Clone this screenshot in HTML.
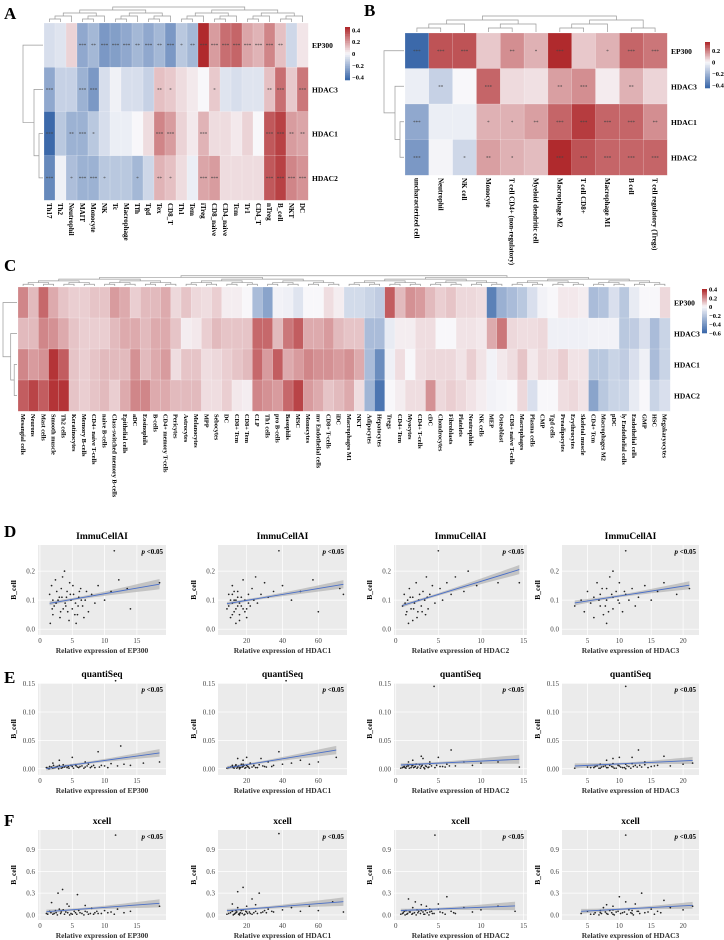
<!DOCTYPE html>
<html><head><meta charset="utf-8">
<style>
html,body{margin:0;padding:0;background:#fff;}
svg{display:block;font-family:"Liberation Serif",serif;}
</style></head>
<body>
<svg id="fig" width="724" height="940" viewBox="0 0 724 940" xmlns="http://www.w3.org/2000/svg">
<text x="4" y="19" font-size="17" font-weight="bold">A</text>
<text x="364" y="16" font-size="17" font-weight="bold">B</text>
<text x="4" y="271" font-size="17" font-weight="bold">C</text>
<text x="4" y="537" font-size="17" font-weight="bold">D</text>
<text x="4" y="683" font-size="17" font-weight="bold">E</text>
<text x="4" y="826" font-size="17" font-weight="bold">F</text>
</svg>
<script>
// ---------- Heatmap data ----------
const rowNames = ["EP300","HDAC3","HDAC1","HDAC2"];
const colsA = ["Th17","Th2","Neutrophil","MAIT","Monocyte","NK","Tc","Macrophage","Tfh","Tgd","Tex","CD8_T","Th1","Tem","iTreg","CD8_naive","CD4_naive","Tcm","Tr1","CD4_T","nTreg","B_cell","NKT","DC"];
const valsA_EP300 = [-0.08,-0.06,0.08,-0.25,-0.2,-0.3,-0.28,-0.25,-0.2,-0.25,-0.2,-0.3,-0.15,-0.2,0.45,0.2,0.3,0.32,0.18,0.15,0.25,0.12,-0.1,0.04];
const valsA_HDAC3 = [-0.25,-0.12,-0.12,-0.22,-0.3,-0.08,-0.02,-0.08,-0.08,-0.12,0.12,0.1,0.06,0.03,0.0,0.1,-0.06,-0.08,-0.06,-0.06,0.12,0.3,0.1,0.28];
const valsA_HDAC1 = [-0.45,-0.15,-0.22,-0.22,-0.15,-0.08,-0.03,-0.03,0.0,0.06,0.25,0.2,0.08,0.03,0.15,0.06,0.06,0.03,0.08,0.0,0.35,0.4,0.2,0.18];
const valsA_HDAC2 = [-0.35,-0.02,-0.18,-0.22,-0.22,-0.15,-0.15,-0.15,-0.2,-0.1,0.15,0.12,0.06,-0.03,0.18,0.2,0.06,0.06,0.06,0.06,0.35,0.4,0.25,0.22];
const starsA_EP300 = ["","","","***","**","***","***","***","**","***","**","***","*","**","***","***","***","***","***","***","***","**","",""];
const starsA_HDAC3 = ["***","","","***","***","","","","","","**","*","","","","*","","","","","**","***","","***"];
const starsA_HDAC1 = ["***","","**","***","*","","","","","","***","***","","","***","","","","","","***","***","**","**"];
const starsA_HDAC2 = ["***","","*","***","***","*","","","*","","**","*","","","***","***","","","","","***","***","***","***"];

const colsB = ["uncharacterized cell","Neutrophil","NK cell","Monocyte","T cell CD4+ (non-regulatory)","Myeloid dendritic cell","Macrophage M2","T cell CD8+","Macrophage M1","B cell","T cell regulatory (Tregs)"];
const valsB_EP300 = [-0.45,0.28,0.28,0.08,0.18,0.12,0.35,0.08,0.12,0.25,0.22];
const valsB_HDAC3 = [-0.03,-0.12,0.0,0.25,0.05,0.04,0.15,0.18,0.02,0.12,0.06];
const valsB_HDAC1 = [-0.25,-0.03,-0.03,0.12,0.12,0.15,0.25,0.32,0.25,0.25,0.18];
const valsB_HDAC2 = [-0.3,-0.01,-0.1,0.15,0.12,0.1,0.35,0.28,0.25,0.25,0.25];
const starsB_EP300 = ["***","***","***","","**","*","***","","*","***","***"];
const starsB_HDAC3 = ["","**","","***","","","**","***","","**",""];
const starsB_HDAC1 = ["***","","","*","*","**","***","***","***","***","**"];
const starsB_HDAC2 = ["***","","*","**","*","","***","***","***","***","***"];

const colsC = ["Mesangial cells","Neurons","Mast cells","Smooth muscle","Th2 cells","Keratinocytes","Memory B-cells","CD4+ naive T-cells","naive B-cells","Class-switched memory B-cells","Epithelial cells","aDC","Eosinophils","B-cells","CD4+ memory T-cells","Pericytes","Astrocytes","Melanocytes","MPP","Sebocytes","DC","CD8+ Tcm","CD8+ Tem","CLP","Th1 cells","pro B-cells","Basophils","MSC","Monocytes","mv Endothelial cells","CD8+ T-cells","iDC","Macrophages M1","NKT","Adipocytes","Hepatocytes","Tregs","CD4+ Tem","Myocytes","CD4+ T-cells","cDC","Chondrocytes","Fibroblasts","Platelets","Neutrophils","NK cells","MEP","Osteoblast","CD8+ naive T-cells","Macrophages","Plasma cells","CMP","Tgd cells","Preadipocytes","Erythrocytes","Skeletal muscle","CD4+ Tcm","Macrophages M2","pDC","ly Endothelial cells","Endothelial cells","GMP","HSC","Megakaryocytes"];
const valsC_EP300 = [.22,.12,.28,.15,.1,.08,.08,.1,.1,.18,.15,.08,.12,.12,.15,.06,.1,.06,.05,.08,.02,.02,0,-.25,-.35,-.02,-.03,-.08,0,0,.05,.02,-.12,-.12,-.15,-.18,.3,.12,.2,.18,.12,.08,.1,.06,.06,.05,-.5,-.3,-.25,-.2,-.1,-.02,0,.03,.03,.02,-.25,-.22,-.1,-.2,-.05,0,0,.06];
const valsC_HDAC3 = [.12,.12,.22,.2,.15,.1,.08,.08,.08,.12,.15,.15,.12,.15,.15,.1,.02,.03,.08,.12,.1,.1,.1,.28,.28,.12,.25,.3,.15,.15,.18,.12,.1,.1,-.25,-.25,-.05,.02,.02,.05,.05,0,0,.04,.04,.03,.15,.25,.06,.05,.05,.06,-.03,-.03,-.03,-.03,-.02,-.02,-.02,-.2,-.18,-.1,-.25,-.15];
const valsC_HDAC1 = [.22,.18,.2,.38,.3,.1,.08,.1,.12,.12,.12,.2,.12,.15,.18,.05,.1,.1,.05,.06,.08,.1,.12,.28,.18,.3,.15,.18,.22,.2,.2,.18,.2,.15,-.25,-.45,-.03,.05,0,.05,.06,.06,.06,.04,.08,.04,-.02,.03,.05,.1,.03,.06,.05,.08,.04,.04,-.2,-.2,-.15,-.18,-.1,-.03,-.25,-.15];
const valsC_HDAC2 = [.3,.35,.3,.38,.38,.1,.08,.1,.12,.08,.15,.22,.22,.15,.15,.12,.12,.12,.05,.05,.08,.03,.02,.22,.2,.18,.28,.35,.18,.15,.1,.12,.15,.05,-.28,-.55,0,.02,.05,.05,.2,.06,.08,.06,.04,.02,-.02,-.01,0,.06,-.1,0,0,.05,.06,.04,-.35,-.2,-.15,-.15,-.05,0,-.15,-.1];

// ---------- Scatter data ----------
const titlesRow = ["ImmuCellAI","quantiSeq","xcell"];
const genes = ["EP300","HDAC1","HDAC2","HDAC3"];
const xTicksEP300 = [0,5,10,15];
const xTicksHDAC1 = [20,40,60];
const xTicksHDAC2 = [0,5,10,15];
const xTicksHDAC3 = [5,10,15,20];
const yTicksD = [0.0,0.1,0.2];
const yTicksE = [0.00,0.05,0.10,0.15];
const yTicksF = [0.0,0.3,0.6,0.9];
const ptsD1 = [[1.5,0.12],[2,0.05],[1.8,0.15],[2.5,0.09],[3,0.11],[3.2,0.06],[3.5,0.18],[3.8,0.2],[4,0.08],[4.2,0.13],[4.5,0.03],[4.8,0.1],[5,0.07],[5.2,0.12],[5.5,0.09],[5.8,0.05],[6,0.11],[6.3,0.14],[6.6,0.08],[7,0.1],[7.5,0.06],[8,0.12],[8.5,0.09],[9,0.15],[10,0.1],[11,0.13],[11.5,0.27],[12.2,0.17],[13.5,0.14],[14,0.07],[18.5,0.16],[2.2,0.08],[3.3,0.14],[1.6,0.02],[4.6,0.16],[5.6,0.02],[6.8,0.04],[2.8,0.1],[3.6,0.07],[7.2,0.13],[2,0.1],[2.6,0.13],[3.1,0.04],[3.4,0.11],[3.9,0.09],[4.3,0.06],[4.7,0.12],[5.1,0.15],[5.4,0.05],[5.9,0.08],[6.4,0.1],[2.4,0.17],[1.9,0.07],[4.1,0.11],[6.1,0.13]];
const ptsD2 = [[9,0.07],[10,0.12],[11,0.04],[12,0.09],[12,0.15],[13,0.06],[14,0.1],[14,0.02],[15,0.08],[15,0.13],[16,0.05],[17,0.11],[18,0.07],[18,0.17],[19,0.1],[20,0.04],[21,0.12],[22,0.08],[23,0.14],[24,0.1],[25,0.18],[26,0.09],[28,0.12],[30,0.16],[32,0.11],[35,0.13],[38,0.27],[40,0.15],[45,0.1],[50,0.13],[57,0.17],[60,0.06],[72,0.14],[74,0.12],[11,0.1],[13,0.13],[16,0.09],[20,0.07],[10,0.08],[12,0.05],[13,0.1],[14,0.07],[15,0.11],[16,0.03],[17,0.08],[19,0.06],[21,0.09],[12,0.12]];
const ptsD3 = [[0.8,0.08],[1,0.12],[1.2,0.05],[1.4,0.1],[1.6,0.14],[1.8,0.07],[2,0.03],[2,0.11],[2.2,0.09],[2.4,0.16],[2.6,0.06],[2.8,0.12],[3,0.08],[3.2,0.13],[3.4,0.1],[3.6,0.18],[3.8,0.07],[4,0.12],[4.3,0.15],[4.6,0.09],[5,0.27],[5.2,0.14],[5.5,0.1],[6,0.16],[6.5,0.12],[7,0.18],[8,0.13],[8.5,0.2],[9.5,0.15],[12,0.16],[14.5,0.16],[1.5,0.02],[2.5,0.04],[3.5,0.05],[1.1,0.09],[1.7,0.11],[2.1,0.07],[2.7,0.1],[3.1,0.06],[3.7,0.11],[1.3,0.06]];
const ptsD4 = [[3,0.08],[4,0.1],[4.5,0.06],[5,0.13],[5.5,0.09],[6,0.04],[6,0.11],[6.5,0.16],[7,0.08],[7,0.12],[7.5,0.05],[8,0.1],[8,0.14],[8.5,0.18],[9,0.07],[9,0.11],[9.5,0.13],[10,0.09],[10,0.16],[10.5,0.06],[11,0.27],[11,0.12],[11.5,0.1],[12,0.14],[12.5,0.08],[13,0.11],[14,0.15],[15,0.1],[16,0.13],[17,0.16],[19,0.12],[21,0.14],[8,0.02],[9,0.2],[6.8,0.1],[7.8,0.08],[8.8,0.12],[9.8,0.1],[10.8,0.13],[7.3,0.14],[8.3,0.06]];
const ptsE1 = [[1,0.002],[1.5,0.004],[2,0.001],[2.5,0.003],[3,0.006],[3.5,0.002],[4,0.005],[4.5,0.001],[5,0.004],[5.5,0.007],[6,0.002],[6.5,0.005],[7,0.003],[7.5,0.008],[8,0.004],[8.5,0.002],[9,0.03],[9.5,0.006],[10,0.005],[11,0.009],[11.7,0.155],[12.5,0.04],[13,0.008],[14,0.006],[16,0.01],[18.5,0.012],[3,0.015],[5,0.02],[2,0.01],[7,0.012],[1.2,0.001],[1.8,0.003],[2.3,0.002],[2.7,0.004],[3.3,0.001],[3.8,0.003],[4.2,0.002],[4.8,0.006],[5.2,0.001],[5.8,0.003],[6.2,0.004],[6.8,0.001],[7.3,0.005],[7.8,0.002],[8.3,0.006],[9.2,0.003],[10.5,0.002],[12,0.005],[2.1,0.006],[3.6,0.007],[4.4,0.004],[5.6,0.005],[1.4,0.0],[2.9,0.0]];
const ptsE2 = [[10,0.002],[12,0.004],[13,0.001],[14,0.006],[15,0.003],[16,0.002],[17,0.008],[18,0.004],[19,0.001],[20,0.006],[21,0.003],[22,0.01],[24,0.005],[25,0.002],[27,0.007],[30,0.004],[32,0.012],[35,0.006],[38,0.03],[40,0.008],[42,0.155],[45,0.01],[50,0.015],[55,0.008],[60,0.012],[70,0.02],[15,0.018],[18,0.015],[20,0.02],[28,0.018],[9,0.001],[11,0.003],[12.5,0.002],[13.5,0.004],[14.5,0.001],[15.5,0.005],[16.5,0.002],[17.5,0.003],[18.5,0.006],[19.5,0.002],[20.5,0.004],[21.5,0.001],[23,0.003],[24,0.006],[26,0.002],[29,0.005],[31,0.003],[34,0.004],[14,0.007],[16,0.0],[18,0.008],[12,0.006]];
const ptsE3 = [[0.8,0.002],[1,0.004],[1.2,0.001],[1.5,0.005],[1.8,0.002],[2,0.006],[2.2,0.003],[2.5,0.001],[2.8,0.007],[3,0.004],[3.2,0.018],[3.5,0.005],[3.8,0.002],[4,0.008],[4.5,0.145],[4.8,0.006],[5,0.02],[5.5,0.004],[6,0.008],[6.5,0.033],[7,0.005],[8,0.012],[9,0.006],[10,0.01],[12,0.012],[14.5,0.003],[2,0.015],[3,0.022],[1.5,0.012],[4,0.012],[0.6,0.001],[0.9,0.003],[1.1,0.002],[1.3,0.004],[1.6,0.001],[1.9,0.005],[2.1,0.002],[2.3,0.004],[2.6,0.003],[2.9,0.001],[3.1,0.006],[3.3,0.002],[3.6,0.004],[3.9,0.003],[4.2,0.005],[4.6,0.002],[5.2,0.004],[5.8,0.003],[1.4,0.007],[2.4,0.008],[3.4,0.0],[6.3,0.005]];
const ptsE4 = [[3,0.001],[5,0.003],[6,0.002],[6.5,0.005],[7,0.001],[7.5,0.004],[8,0.002],[8.5,0.006],[9,0.003],[9,0.018],[9.5,0.001],[10,0.005],[10.5,0.002],[11,0.008],[11,0.145],[11.5,0.004],[12,0.02],[12.5,0.006],[13,0.033],[13.5,0.003],[14,0.007],[15,0.004],[16,0.006],[17,0.022],[18,0.005],[20,0.008],[21.5,0.01],[8,0.015],[10,0.02],[14,0.012],[5.5,0.002],[6.2,0.004],[6.8,0.001],[7.2,0.003],[7.8,0.005],[8.2,0.002],[8.8,0.004],[9.2,0.001],[9.8,0.006],[10.2,0.003],[10.8,0.002],[11.2,0.005],[11.8,0.001],[12.2,0.004],[12.8,0.003],[13.2,0.006],[14.5,0.002],[15.5,0.005],[7,0.008],[9,0.009],[11,0.0],[12,0.009]];
const ptsF1 = [[1,0.02],[1.5,0.05],[2,0.01],[2.5,0.03],[3,0.08],[3.5,0.35],[3.2,0.02],[4,0.04],[4.5,0.12],[5,0.01],[5.5,0.03],[5.8,0.28],[6,0.06],[6.5,0.02],[7,0.05],[7.5,0.01],[8,0.09],[8.5,0.03],[9,0.02],[10,0.06],[11,0.04],[11.7,1.1],[12,0.08],[13,0.03],[14,0.05],[18.5,0.12],[2.8,0.3],[4.2,0.15],[1.8,0.17],[7,0.13],[1.2,0.01],[1.7,0.03],[2.2,0.02],[2.7,0.0],[3.3,0.04],[3.8,0.01],[4.3,0.03],[4.8,0.02],[5.3,0.05],[5.7,0.01],[6.2,0.03],[6.8,0.0],[7.3,0.04],[7.8,0.02],[8.3,0.01],[8.8,0.05],[9.5,0.02],[10.5,0.03],[11.5,0.01],[2.4,0.06],[3.6,0.07],[4.6,0.0]];
const ptsF2 = [[10,0.02],[12,0.05],[13,0.01],[14,0.03],[15,0.32],[16,0.02],[17,0.06],[18,0.38],[19,0.01],[20,0.04],[22,0.02],[23,0.22],[25,0.05],[27,0.3],[28,0.03],[30,0.06],[32,0.08],[35,0.04],[38,1.12],[40,0.07],[45,0.1],[50,0.05],[55,0.12],[60,0.06],[68,0.18],[74,0.04],[15,0.1],[20,0.12],[12,0.15],[25,0.14],[9,0.01],[11,0.03],[12.5,0.0],[13.5,0.02],[14.5,0.04],[15.5,0.01],[16.5,0.03],[17.5,0.02],[18.5,0.0],[19.5,0.05],[20.5,0.02],[21.5,0.04],[23,0.01],[24,0.03],[26,0.02],[29,0.04],[31,0.03],[34,0.05],[14,0.06],[16,0.0],[18,0.07],[12,0.05]];
const ptsF3 = [[0.8,0.02],[1,0.05],[1.3,0.01],[1.6,0.04],[2,0.02],[2.3,0.18],[2.6,0.03],[3,0.06],[3.3,0.01],[3.6,0.12],[4,0.04],[4.3,0.02],[4.6,1.1],[5,0.08],[5.5,0.03],[6,0.25],[6.5,0.05],[7,0.02],[8,0.1],[9,0.04],[10,0.07],[12,0.12],[14,0.05],[2,0.1],[3,0.14],[1.5,0.22],[4,0.08],[5,0.15],[0.6,0.01],[0.9,0.03],[1.1,0.0],[1.4,0.02],[1.7,0.04],[1.9,0.01],[2.2,0.03],[2.4,0.0],[2.7,0.05],[2.9,0.02],[3.2,0.04],[3.4,0.01],[3.7,0.03],[3.9,0.0],[4.2,0.05],[4.5,0.02],[5.2,0.04],[5.8,0.01],[6.8,0.03],[1.2,0.06],[2.5,0.07],[3.5,0.06]];
const ptsF4 = [[4,0.02],[5,0.05],[6,0.01],[7,0.03],[7.5,0.1],[8,0.02],[8.5,0.06],[9,0.01],[9.5,0.04],[10,0.25],[10.5,0.03],[11,1.1],[11.5,0.07],[12,0.02],[12.5,0.15],[13,0.05],[13.5,0.3],[14,0.03],[15,0.08],[16,0.05],[17,0.2],[18,0.1],[20,0.07],[21.5,0.12],[9,0.12],[11,0.18],[8,0.14],[5.5,0.01],[6.2,0.03],[6.8,0.0],[7.2,0.02],[7.8,0.04],[8.2,0.01],[8.8,0.03],[9.2,0.0],[9.8,0.05],[10.2,0.02],[10.8,0.04],[11.2,0.01],[11.8,0.03],[12.2,0.0],[12.8,0.05],[13.2,0.02],[14.5,0.04],[15.5,0.01],[16.5,0.03],[7,0.06],[9,0.07],[12,0.06]];

// ---------- helpers ----------
const NS="http://www.w3.org/2000/svg";
const svg=document.getElementById('fig');
function mk(tag,attrs,parent){const e=document.createElementNS(NS,tag);for(const k in attrs)e.setAttribute(k,attrs[k]);(parent||svg).appendChild(e);return e;}
function colr(v,vmin,vmax){
  const w=[248,247,250],r=[176,42,45],b=[60,105,170];
  let t,c;
  if(v>=0){t=Math.min(v/vmax,1);c=r;}else{t=Math.min(v/vmin,1);c=b;}
  return 'rgb('+w.map((x,i)=>Math.round(x+(c[i]-x)*t)).join(',')+')';
}
function dendroCols(n,x0,cw,yBase,hMax,g){
  function build(l,r){
    if(l===r) return {x:x0+cw*(l+0.5),h:0};
    const m=Math.floor((l+r)/2);
    const a=build(l,m),b=build(m+1,r);
    const h=Math.max(a.h,b.h)+hMax/Math.ceil(Math.log2(n)+1);
    const y=yBase-h;
    mk('path',{d:`M${a.x},${yBase-a.h}V${y}H${b.x}V${yBase-b.h}`,fill:'none',stroke:'#999','stroke-width':0.7},g);
    return {x:(a.x+b.x)/2,h:h};
  }
  build(0,n-1);
}
function dendroRows(x1,y0,rh,w,g){
  const yc=i=>y0+rh*(i+0.5);
  const p=(d)=>mk('path',{d:d,fill:'none',stroke:'#999','stroke-width':0.7},g);
  const a=x1-w*0.2,b=x1-w*0.45,c=x1-w;
  p(`M${x1},${yc(2)}H${a}V${yc(3)}H${x1}`);
  p(`M${x1},${yc(1)}H${b}V${(yc(2)+yc(3))/2}H${a}`);
  p(`M${x1},${yc(0)}H${c}V${(yc(1)+(yc(2)+yc(3))/2)/2}H${b}`);
}
function heatmap(name,cols,rows,stars,x0,x1,y0,y1,vmin,vmax,fs,colFs,legend){
  const g=mk('g',{});
  
  
  const cw=(x1-x0)/cols.length, rh=(y1-y0)/rows.length;
  rows.forEach((vals,ri)=>{
    vals.forEach((v,ci)=>{
      const r=mk('rect',{x:x0+ci*cw,y:y0+ri*rh,width:cw+0.3,height:rh+0.3,fill:colr(v,vmin,vmax),stroke:'rgba(255,255,255,0.5)','stroke-width':0.4},g);
      
      
      if(stars&&stars[ri][ci]){
        const t=mk('text',{x:x0+(ci+0.5)*cw,y:y0+(ri+0.5)*rh+2,'font-size':5,'text-anchor':'middle',fill:'#444'},g);
        t.textContent=stars[ri][ci];
        
        
      }
    });
    const lt=mk('text',{x:x1+4,y:y0+(ri+0.5)*rh+3,'font-size':fs,'font-weight':'bold'},g);
    lt.textContent=rowNames[ri];
    
    
  });
  cols.forEach((c,ci)=>{
    const x=x0+(ci+0.5)*cw-colFs*0.35, y=y1+3;
    const t=mk('text',{x:x,y:y,'font-size':colFs,'font-weight':'bold',transform:`rotate(90 ${x} ${y})`},g);
    t.textContent=c;
    
    
  });
  dendroCols(cols.length,x0,cw,y0-1,legend.dh,g);
  dendroRows(x0-1,y0,rh,legend.rw,g);
  const lg=mk('g',{},g);
  
  
  const steps=30;
  for(let i=0;i<steps;i++){
    const v=vmax-(vmax-vmin)*i/(steps-1);
    mk('rect',{x:legend.x,y:legend.y0+(legend.y1-legend.y0)*i/steps,width:5,height:(legend.y1-legend.y0)/steps+0.3,fill:colr(v,vmin,vmax)},lg);
  }
  legend.ticks.forEach(v=>{
    const y=legend.y0+(vmax-v)/(vmax-vmin)*(legend.y1-legend.y0);
    const t=mk('text',{x:legend.x+7,y:y+2.5,'font-size':6.5,'font-weight':'bold'},lg);
    t.textContent=(v<0?'\u2212':'')+Math.abs(v);
  });
}
heatmap('heatmap-a',colsA,[valsA_EP300,valsA_HDAC3,valsA_HDAC1,valsA_HDAC2],[starsA_EP300,starsA_HDAC3,starsA_HDAC1,starsA_HDAC2],44,308,23,200,-0.45,0.45,7.5,7,{x:345,y0:27,y1:80,ticks:[0.4,0.2,0,-0.2,-0.4],dh:18,rw:20});
heatmap('heatmap-b',colsB,[valsB_EP300,valsB_HDAC3,valsB_HDAC1,valsB_HDAC2],[starsB_EP300,starsB_HDAC3,starsB_HDAC1,starsB_HDAC2],405,667,33,175,-0.45,0.35,7.5,7,{x:705,y0:42,y1:88,ticks:[0.2,0,-0.2,-0.4],dh:20,rw:20});
heatmap('heatmap-c',colsC,[valsC_EP300,valsC_HDAC3,valsC_HDAC1,valsC_HDAC2],null,18,670,287,411,-0.6,0.4,7.5,6.3,{x:702,y0:289,y1:333,ticks:[0.4,0.2,0,-0.2,-0.4,-0.6],dh:12,rw:14});

// ---------- scatter panels ----------
const colX=[[38,166],[218,347],[394,527],[562,699]];
const rowY=[[545,635],[683,775],[830,920]];
const xDom=[[-0.3,19.5],[4,76],[-0.2,15.4],[1,22.5]];
const xTicks=[xTicksEP300,xTicksHDAC1,xTicksHDAC2,xTicksHDAC3];
const yDom=[[-0.02,0.29],[-0.011,0.151],[-0.07,1.17]];
const yTicks=[yTicksD,yTicksE,yTicksF];
const yFmt=[1,2,1];
const allPts=[[ptsD1,ptsD2,ptsD3,ptsD4],[ptsE1,ptsE2,ptsE3,ptsE4],[ptsF1,ptsF2,ptsF3,ptsF4]];
for(let r=0;r<3;r++){for(let c=0;c<4;c++){
  const [px0,px1]=colX[c],[py0,py1]=rowY[r];
  const [dx0,dx1]=xDom[c],[dy0,dy1]=yDom[r];
  const X=v=>px0+(v-dx0)/(dx1-dx0)*(px1-px0);
  const Y=v=>py1-(v-dy0)/(dy1-dy0)*(py1-py0);
  const g=mk('g',{});
  
  
  mk('rect',{x:px0,y:py0,width:px1-px0,height:py1-py0,fill:'#ebebeb'},g);
  xTicks[c].forEach(v=>{
    mk('line',{x1:X(v),x2:X(v),y1:py0,y2:py1,stroke:'#fff','stroke-width':0.7},g);
    const t=mk('text',{x:X(v),y:py1+8,'font-size':7,'text-anchor':'middle',fill:'#444'},g);
    t.textContent=v;
    
    
  });
  yTicks[r].forEach(v=>{
    mk('line',{x1:px0,x2:px1,y1:Y(v),y2:Y(v),stroke:'#fff','stroke-width':0.7},g);
    const t=mk('text',{x:px0-3,y:Y(v)+2.5,'font-size':7,'text-anchor':'end',fill:'#444'},g);
    t.textContent=v.toFixed(yFmt[r]);
    
    
  });
  const pts=allPts[r][c];
  const n=pts.length;
  const mx=pts.reduce((s,p)=>s+p[0],0)/n, my=pts.reduce((s,p)=>s+p[1],0)/n;
  let sxx=0,sxy=0;pts.forEach(p=>{sxx+=(p[0]-mx)**2;sxy+=(p[0]-mx)*(p[1]-my);});
  const b=sxy/sxx,a=my-b*mx;
  let sse=0;pts.forEach(p=>{sse+=(p[1]-a-b*p[0])**2;});
  const sd=Math.sqrt(sse/(n-2));
  const N=400, sxxN=sxx*N/n;
  const xs=pts.map(p=>p[0]),xmin=Math.min(...xs),xmax=Math.max(...xs);
  let up=[],lo=[];
  for(let i=0;i<=20;i++){const x=xmin+(xmax-xmin)*i/20;const se=sd*Math.sqrt(1/N+(x-mx)**2/sxxN)*2;
    up.push(X(x)+','+Y(a+b*x+se));lo.unshift(X(x)+','+Y(a+b*x-se));}
  const band=mk('polygon',{points:up.concat(lo).join(' '),fill:'#a8a8a8','fill-opacity':0.6},g);
  
  
  pts.forEach(p=>{
    const d=mk('circle',{cx:X(p[0]),cy:Y(p[1]),r:0.85,fill:'#222'},g);
    
    
  });
  const ln=mk('line',{x1:X(xmin),y1:Y(a+b*xmin),x2:X(xmax),y2:Y(a+b*xmax),stroke:'#4a6fc8','stroke-width':0.9},g);
  
  
  const tt=mk('text',{x:(px0+px1)/2,y:py0-6,'font-size':9.5,'font-weight':'bold','text-anchor':'middle'},g);
  tt.textContent=titlesRow[r];
  
  
  const pv=mk('text',{x:px1-3,y:py0+9,'font-size':7,'font-weight':'bold','text-anchor':'end'},g);
  pv.innerHTML='<tspan font-style="italic">p</tspan> &lt;0.05';
  
  
  const xl=mk('text',{x:(px0+px1)/2,y:py1+18,'font-size':7.5,'font-weight':'bold','text-anchor':'middle',fill:'#333'},g);
  xl.textContent='Relative expression of '+genes[c];
  
  
  const yx=px0-22,yy=(py0+py1)/2;
  const yl=mk('text',{x:yx,y:yy,'font-size':7.5,'font-weight':'bold','text-anchor':'middle',transform:`rotate(-90 ${yx} ${yy})`},g);
  yl.textContent='B_cell';
  
  
}}
</script>
</body></html>
